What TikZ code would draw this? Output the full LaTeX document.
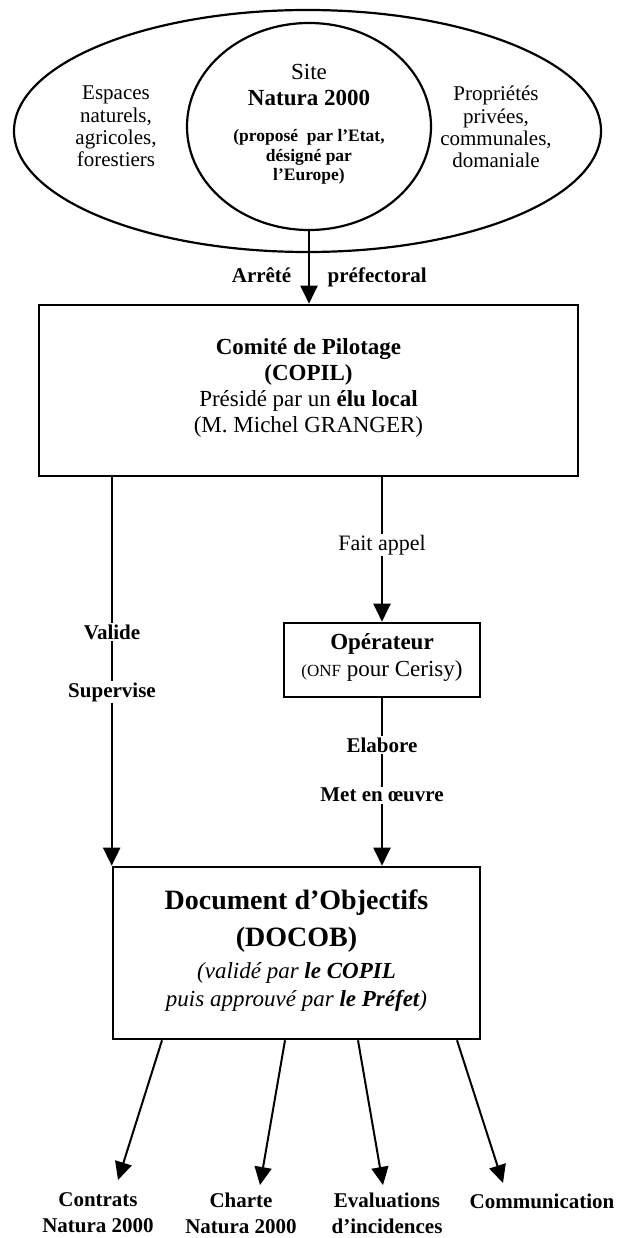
\documentclass[tikz,border=0pt]{standalone}
\usepackage{fontspec}
\setmainfont{Liberation Serif}
\usetikzlibrary{shapes.geometric,arrows.meta}
\tikzset{
  oval/.style={ellipse,draw,line width=2.2pt,inner sep=0pt},
  box/.style={draw,line width=2.6pt,inner sep=0pt},
  arr/.style={line width=2pt,-{Triangle[length=18pt,width=17pt]}},
  lbl/.style={fill=white,inner sep=1.5pt,font=\fontsize{21}{22}\selectfont\bfseries},
  txt/.style={align=center,inner sep=0pt},
  outlbl/.style={txt,font=\fontsize{21}{26}\selectfont\bfseries},
}
\begin{document}
\begin{tikzpicture}[x=1pt,y=-1pt]
\useasboundingbox (0,0) rectangle (618,1238);
% top ellipses
\node[oval,minimum width=587pt,minimum height=242pt] (outer) at (307.5,131) {};
\node[oval,minimum width=244pt,minimum height=207pt] (site) at (309,126.5) {};
\node[txt,font=\fontsize{21}{22.3}\selectfont] (esp) at (116,126.5) {Espaces\\naturels,\\agricoles,\\forestiers};
\node[txt,font=\fontsize{21}{22.3}\selectfont] (prop) at (496,127) {Propriétés\\privées,\\communales,\\domaniale};
\node[txt,font=\fontsize{23}{26}\selectfont] (sitename) at (309,85) {Site\\\textbf{Natura 2000}};
\node[txt,font=\fontsize{17.5}{19.5}\selectfont\bfseries] (siteinfo) at (309,157) {(proposé~ par l’Etat,\\désigné par\\l’Europe)};
% boxes
\node[box,minimum width=539pt,minimum height=171pt] (copil) at (308.5,390.5) {};
\node[txt,font=\fontsize{23}{26}\selectfont] (copiltxt) at (308.5,387.5) {\textbf{Comité de Pilotage}\\\textbf{(COPIL)}\\Présidé par un \textbf{élu local}\\(M. Michel GRANGER)};
\node[box,minimum width=196pt,minimum height=74pt] (oper) at (382,660) {};
\node[txt,font=\fontsize{23}{27}\selectfont] (opertxt) at (382,657.5) {\textbf{Opérateur}\\{\fontsize{17}{27}\selectfont(ONF} pour Cerisy)};
\node[box,minimum width=367pt,minimum height=172pt] (docob) at (296.5,953) {};
\node[txt,font=\fontsize{28}{37}\selectfont\bfseries] (doctitle) at (296.5,921.5) {Document d’Objectifs\\(DOCOB)};
\node[txt,font=\fontsize{23}{28}\selectfont\itshape] (docnote) at (296.5,987) {(validé par \textbf{le COPIL}\\puis approuvé par \textbf{le Préfet})};
% connectors
\draw[arr] (site.south) -- (site.south |- copil.north);
\node[lbl,fill=none,anchor=base east] (arrete) at (293,283) {Arrêté};
\node[lbl,fill=none,anchor=base west] (prefect) at (326,283) {préfectoral};
\draw[arr] (copil.south -| docob.north west) -- (docob.north west);
\node[lbl] (valide) at (112,632) {Valide};
\node[lbl] (superv) at (112,692) {Supervise};
\draw[arr] (copil.south -| oper.north) -- (oper.north);
\node[lbl,font=\fontsize{22}{24}\selectfont] (fait) at (382,545) {Fait appel};
\draw[arr] (oper.south) -- (oper.south |- docob.north);
\node[lbl] (elabore) at (382,745) {Elabore};
\node[lbl] (metoeuvre) at (382,795) {Met en œuvre};
% outputs
\coordinate (s1) at (162,1039);
\coordinate (s2) at (285,1039);
\coordinate (s3) at (358,1039);
\coordinate (s4) at (457,1039);
\coordinate (t1) at (118,1180);
\coordinate (t2) at (260,1185);
\coordinate (t3) at (383,1185);
\coordinate (t4) at (503,1183);
\draw[arr] (docob.south -| s1) -- (t1);
\draw[arr] (docob.south -| s2) -- (t2);
\draw[arr] (docob.south -| s3) -- (t3);
\draw[arr] (docob.south -| s4) -- (t4);
\node[outlbl] (contrats) at (98,1213) {Contrats\\Natura 2000};
\node[outlbl] (charte) at (241,1213) {Charte\\Natura 2000};
\node[outlbl] (evals) at (387,1213) {Evaluations\\d’incidences};
\node[outlbl] (comm) at (542,1201) {Communication};
\end{tikzpicture}
\end{document}
